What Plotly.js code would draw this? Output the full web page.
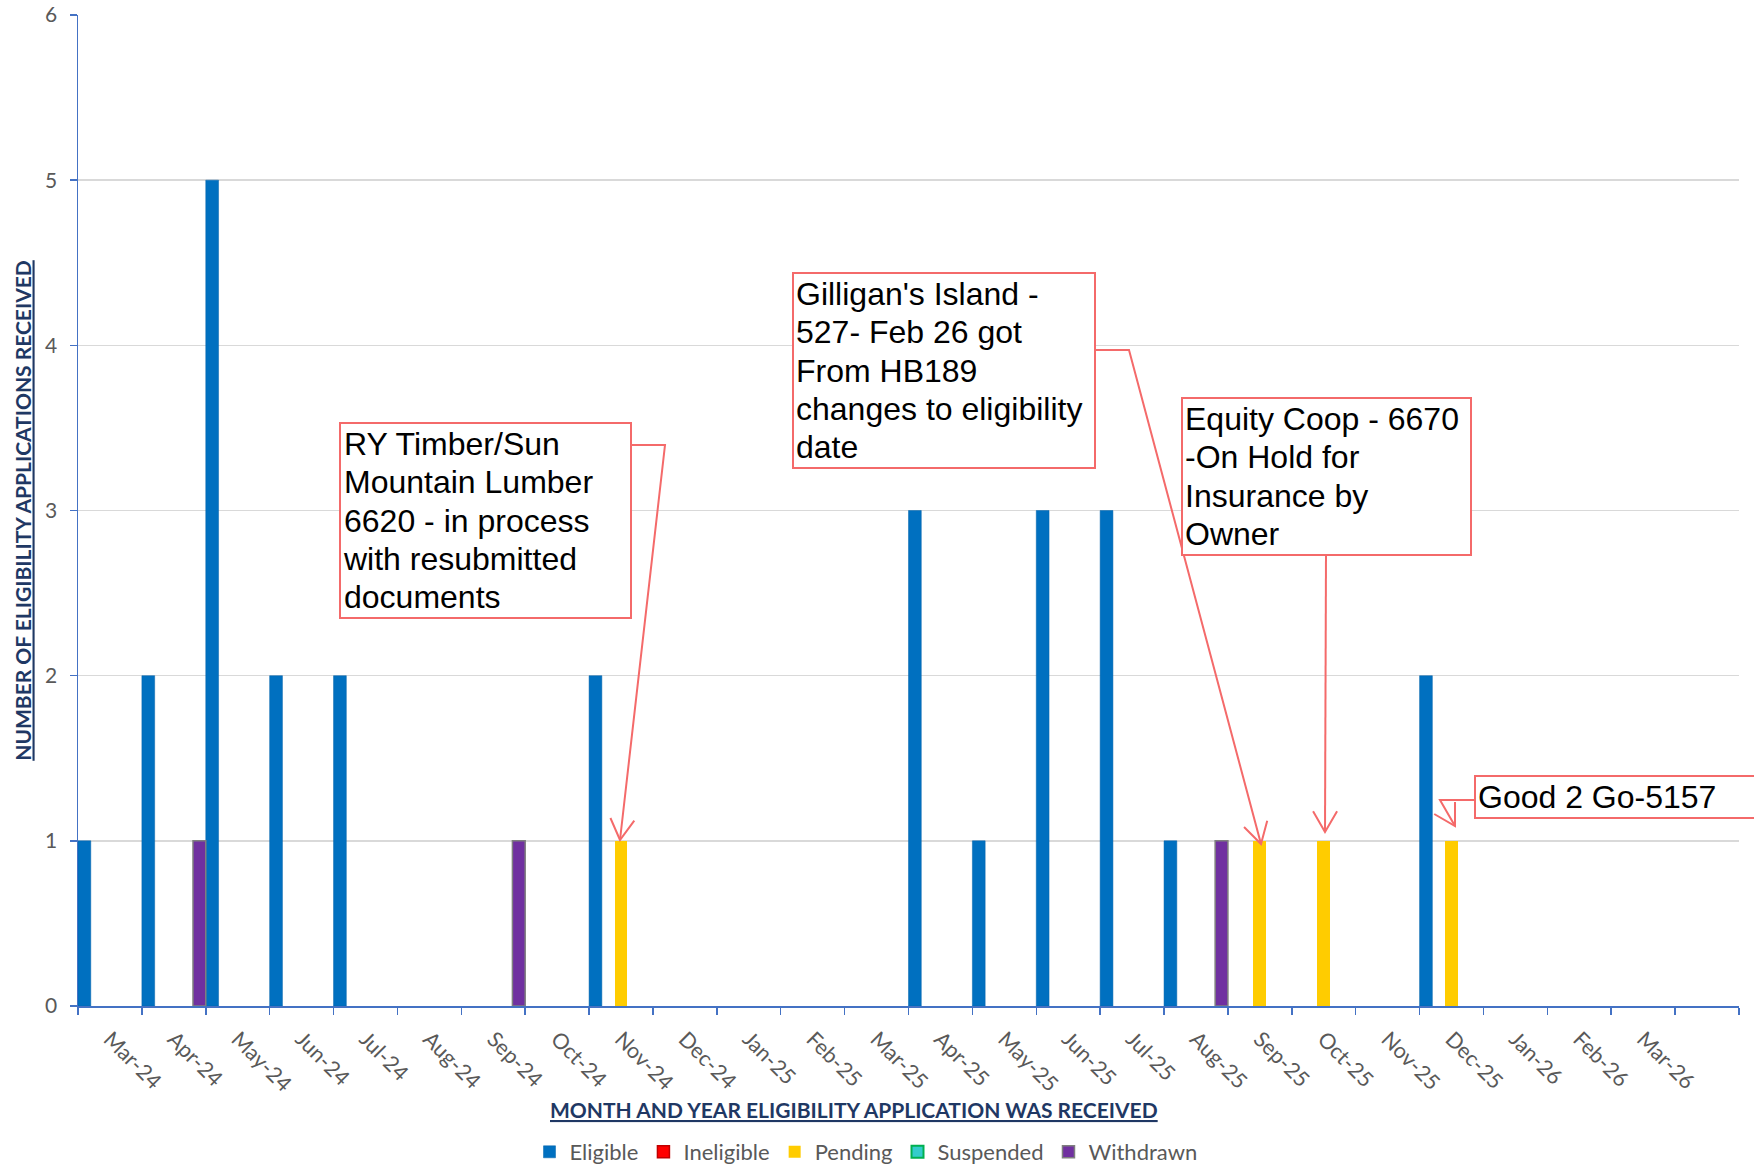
<!DOCTYPE html>
<html>
<head>
<meta charset="utf-8">
<script src="https://cdn.plot.ly/plotly-3.0.1.min.js"></script>
<style>
  html, body { margin: 0; padding: 0; background: #ffffff; }
  #chart { width: 1754px; height: 1172px; }
</style>
</head>
<body>
<div id="chart"></div>
<script>
// ---------- data ----------
const months = ['Mar-24','Apr-24','May-24','Jun-24','Jul-24','Aug-24','Sep-24','Oct-24','Nov-24','Dec-24',
                'Jan-25','Feb-25','Mar-25','Apr-25','May-25','Jun-25','Jul-25','Aug-25','Sep-25','Oct-25',
                'Nov-25','Dec-25','Jan-26','Feb-26','Mar-26'];
const eligible   = [1,2,5,2,2,0,0,0,2,0,0,0,0,3,1,3,3,1,0,0,0,2,0,0,0];
const ineligible = [0,0,0,0,0,0,0,0,0,0,0,0,0,0,0,0,0,0,0,0,0,0,0,0,0];
const pending    = [0,0,0,0,0,0,0,0,1,0,0,0,0,0,0,0,0,0,1,1,0,1,0,0,0];
const suspended  = [0,0,0,0,0,0,0,0,0,0,0,0,0,0,0,0,0,0,0,0,0,0,0,0,0];
const withdrawn  = [0,1,0,0,0,0,1,0,0,0,0,0,0,0,0,0,0,1,0,0,0,0,0,0,0];

const seriesNames = ['Eligible','Ineligible','Pending','Suspended','Withdrawn'];
const notes = [
  ["RY Timber/Sun", "Mountain Lumber", "6620 - in process", "with resubmitted", "documents"],
  ["Gilligan's Island -", "527- Feb 26 got", "From HB189", "changes to eligibility", "date"],
  ["Equity Coop - 6670", "-On Hold for", "Insurance by", "Owner"],
  ["Good 2 Go-5157"]
];

// ---------- layout geometry (pixels) ----------
const W = 1754, H = 1172;
const M = {l: 78, r: 15, t: 15, b: 166, autoexpand: false};
const PW = W - M.l - M.r, PH = H - M.t - M.b;
const px = x => (x - M.l) / PW;
const py = y => (H - M.b - y) / PH;

const RED = '#F46A6A';
const FONT = 'Lato, "Open Sans", sans-serif';
const NOTE_FONT = '"Liberation Sans", Arial, sans-serif';

const styles = {
  Eligible:   {color: '#0070C0', line: '#0063AA', lw: 0.5},
  Ineligible: {color: '#FF0000', line: '#C00000', lw: 1.5},
  Pending:    {color: '#FFCC00', line: '#FFCC00', lw: 0},
  Suspended:  {color: '#33CCCC', line: '#00B050', lw: 2},
  Withdrawn:  {color: '#7030A0', line: '#7F7F7F', lw: 1.5}
};
const values = [eligible, ineligible, pending, suspended, withdrawn];

const traces = seriesNames.map((n, i) => ({
  type: 'bar', name: n, x: months,
  y: values[i].map(v => (v === 0 ? null : v)),
  marker: {color: styles[n].color, line: {color: styles[n].line, width: styles[n].lw}},
  hoverinfo: 'x+y+name'
}));

// ---------- callouts ----------
const boxes = [
  {x: 339, y: 421.5, w: 293, lines: notes[0]},
  {x: 792, y: 271.5, w: 304, lines: notes[1]},
  {x: 1181, y: 397, w: 291, lines: notes[2]},
  {x: 1474, y: 775, w: 320, lines: notes[3]}
];
const leaders = [
  [[632, 445], [665, 445], [620, 840]],
  [[1096, 350], [1129, 350], [1261, 844]],
  [[1326, 553], [1325, 832]],
  [[1474, 800], [1440, 800], [1455, 826]]
];

const annotations = boxes.map(b => ({
  xref: 'paper', yref: 'paper', x: px(b.x), y: py(b.y),
  xanchor: 'left', yanchor: 'top', align: 'left', valign: 'top',
  text: b.lines.map(l => '<span style="font-size:32px">' + l + '</span>').join('<br>'),
  showarrow: false, width: b.w - 8,
  bordercolor: RED, borderwidth: 2, borderpad: 2, bgcolor: '#ffffff',
  font: {family: NOTE_FONT, size: 29.5, color: '#000000'}
}));

annotations.push({
  xref: 'paper', yref: 'paper', x: px(854), y: py(1109),
  xanchor: 'center', yanchor: 'middle', showarrow: false,
  text: 'MONTH AND YEAR ELIGIBILITY APPLICATION WAS RECEIVED',
  font: {family: FONT, size: 21, color: '#1F3864', weight: 'bold', lineposition: 'under'}
});

const shapes = [];
leaders.forEach(pts => {
  let d = 'M' + pts.map(p => px(p[0]) + ',' + py(p[1])).join(' L');
  shapes.push({type: 'path', xref: 'paper', yref: 'paper', path: d,
               line: {color: RED, width: 2}, layer: 'above'});
  const a = pts[pts.length - 2], tip = pts[pts.length - 1];
  const dx = tip[0] - a[0], dy = tip[1] - a[1], len = Math.hypot(dx, dy);
  const ux = dx / len, uy = dy / len, L = 24, ang = 30 * Math.PI / 180;
  const arm = s => {
    const c = Math.cos(s * ang), sn = Math.sin(s * ang);
    const rx = ux * c - uy * sn, ry = ux * sn + uy * c;
    return [tip[0] - L * rx, tip[1] - L * ry];
  };
  const a1 = arm(1), a2 = arm(-1);
  shapes.push({type: 'path', xref: 'paper', yref: 'paper',
    path: 'M' + px(a1[0]) + ',' + py(a1[1]) + ' L' + px(tip[0]) + ',' + py(tip[1]) + ' L' + px(a2[0]) + ',' + py(a2[1]),
    line: {color: RED, width: 2}, layer: 'above'});
});

const layout = {
  width: W, height: H,
  margin: M,
  paper_bgcolor: '#ffffff', plot_bgcolor: '#ffffff',
  font: {family: FONT, color: '#595959', size: 20},
  barmode: 'group', bargap: 0, bargroupgap: 0,
  showlegend: true,
  legend: {orientation: 'h', x: px(866), y: py(1152), xanchor: 'center', yanchor: 'middle',
           font: {family: FONT, size: 22, color: '#595959'}, traceorder: 'normal'},
  xaxis: {
    type: 'category', categoryorder: 'array', categoryarray: months.concat([' ']),
    range: [-0.5, 25.5], tickson: 'boundaries',
    ticks: 'outside', ticklen: 7, tickwidth: 1.5, tickcolor: '#4472C4',
    showline: true, linecolor: '#4472C4', linewidth: 2,
    showgrid: false, tickangle: 45, automargin: false, ticklabelstandoff: 10,
    tickfont: {family: FONT, size: 21.5, color: '#595959'}
  },
  yaxis: {
    range: [0, 6], dtick: 1, tick0: 0,
    ticks: 'outside', ticklen: 7, tickwidth: 1.5, tickcolor: '#4472C4',
    showline: true, linecolor: '#4472C4', linewidth: 1.5,
    gridcolor: '#D9D9D9', gridwidth: 1.5, zeroline: false, automargin: false,
    ticklabelstandoff: 8,
    tickfont: {family: FONT, size: 21, color: '#595959'},
    title: {text: 'NUMBER OF ELIGIBILITY APPLICATIONS RECEIVED', standoff: 8,
            font: {family: FONT, size: 21, color: '#1F3864', weight: 'bold', lineposition: 'under'}}
  },
  annotations: annotations,
  shapes: shapes
};

Plotly.newPlot('chart', traces, layout, {displayModeBar: false, staticPlot: true});
</script>
</body>
</html>
